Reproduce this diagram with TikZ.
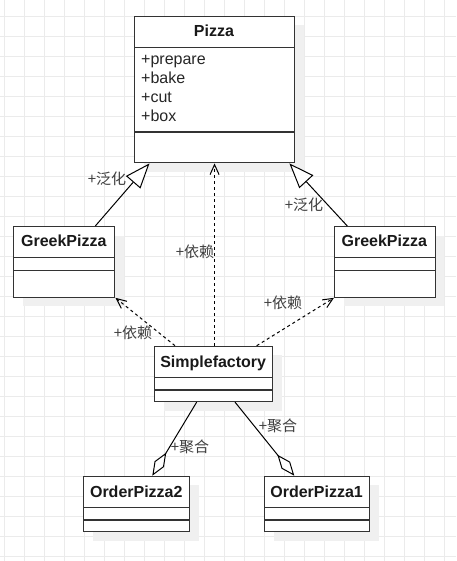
\documentclass[tikz,border=0pt]{standalone}
\usepackage{fontspec}
\setmainfont{Liberation Sans}
\newfontfamily\cjk{Noto Sans CJK SC}
\usetikzlibrary{arrows.meta,calc,shadows}
\begin{document}
\begin{tikzpicture}[x=1pt,y=-1pt,
  gridline/.style={draw=gray!16, line width=0.9pt},
  umlbox/.style={draw=black!80, line width=1.1pt, fill=white, anchor=north west, inner sep=0pt,
    drop shadow={shadow xshift=9pt, shadow yshift=-9pt, fill=gray!12, opacity=1}},
  sepline/.style={draw=black!80, line width=1.1pt},
  clsname/.style={font=\bfseries\fontsize{16}{19}\selectfont, anchor=base, inner sep=0pt, text=black!90},
  attr/.style={font=\fontsize{16}{19}\selectfont, anchor=base west, inner sep=0pt, text=black!85},
  lbl/.style={font=\cjk\fontsize{15}{18}\selectfont, inner sep=0pt, text=black!75},
  gen/.style={draw=black, line width=1pt, -{Triangle[length=25pt,width=19pt,fill=white]}},
  dep/.style={draw=black, line width=1pt, dash pattern=on 3pt off 3pt, -{Straight Barb[length=10pt,width=9pt]}},
  agg/.style={draw=black, line width=1pt, -{Diamond[length=27pt,width=11pt,fill=white]}}
]
\path[use as bounding box, fill=white] (0,0) rectangle (456,561);
\foreach \x in {4,24,...,444} \draw[gridline] (\x,0) -- (\x,561);
\foreach \y in {16,36,...,556} \draw[gridline] (0,\y) -- (456,\y);

% boxes
\node[umlbox, minimum width=160pt, minimum height=146.6pt] (pizza) at (134,15.7) {};
\node[umlbox, minimum width=101pt, minimum height=70.7pt] (gl) at (13.3,226) {};
\node[umlbox, minimum width=100.7pt, minimum height=70.7pt] (gr) at (334,226) {};
\node[umlbox, minimum width=118.3pt, minimum height=55.3pt] (sf) at (154,345.7) {};
\node[umlbox, minimum width=106pt, minimum height=55.3pt] (op2) at (83.3,475.7) {};
\node[umlbox, minimum width=105.3pt, minimum height=55.3pt] (op1) at (264,475.7) {};

% separators
\draw[sepline] ([yshift=-31.6pt]pizza.north west) -- ([yshift=-31.6pt]pizza.north east);
\draw[sepline] ([yshift=-116.3pt]pizza.north west) -- ([yshift=-116.3pt]pizza.north east);
\foreach \b in {gl,gr,sf,op2,op1}{
  \draw[sepline] ([yshift=-31.6pt]\b.north west) -- ([yshift=-31.6pt]\b.north east);
  \draw[sepline] ([yshift=-44.3pt]\b.north west) -- ([yshift=-44.3pt]\b.north east);
}

% texts
\node[clsname] (tpizza) at (214,36.7) {Pizza};
\node[attr] (a1) at (141,64.5) {+prepare};
\node[attr] (a2) at (141,83.5) {+bake};
\node[attr] (a3) at (141,102.5) {+cut};
\node[attr] (a4) at (141,121.5) {+box};
\node[clsname] (tgl) at (63.8,246.7) {GreekPizza};
\node[clsname] (tgr) at (384.3,246.7) {GreekPizza};
\node[clsname] (tsf) at (213.2,367) {Simplefactory};
\node[clsname] (top2) at (136.3,497) {OrderPizza2};
\node[clsname] (top1) at (316.6,497) {OrderPizza1};

% connectors
\draw[gen] ([xshift=82pt]gl.north west) -- ([xshift=15.5pt]pizza.south west);
\draw[gen] ([xshift=13.3pt]gr.north west) -- ([xshift=-5.7pt]pizza.south east);
\draw[dep] (sf.north -| pizza.south) -- (pizza.south);
\draw[dep] ([xshift=21pt]sf.north west) -- (gl.south east);
\draw[dep] ([xshift=102.7pt]sf.north west) -- (gr.south west);
\draw[agg] ([xshift=42.7pt]sf.south west) -- ([xshift=69pt]op2.north west);
\draw[agg] ([xshift=81pt]sf.south west) -- ([xshift=30.3pt]op1.north west);

% labels
\node[lbl] (l1) at (107,179) {+泛化};
\node[lbl] (l2) at (304,205) {+泛化};
\node[lbl] (l3) at (195,251.7) {+依赖};
\node[lbl] (l4) at (133,333) {+依赖};
\node[lbl] (l5) at (283,302.7) {+依赖};
\node[lbl] (l6) at (190,447.3) {+聚合};
\node[lbl] (l7) at (278,425.7) {+聚合};
\end{tikzpicture}
\end{document}
